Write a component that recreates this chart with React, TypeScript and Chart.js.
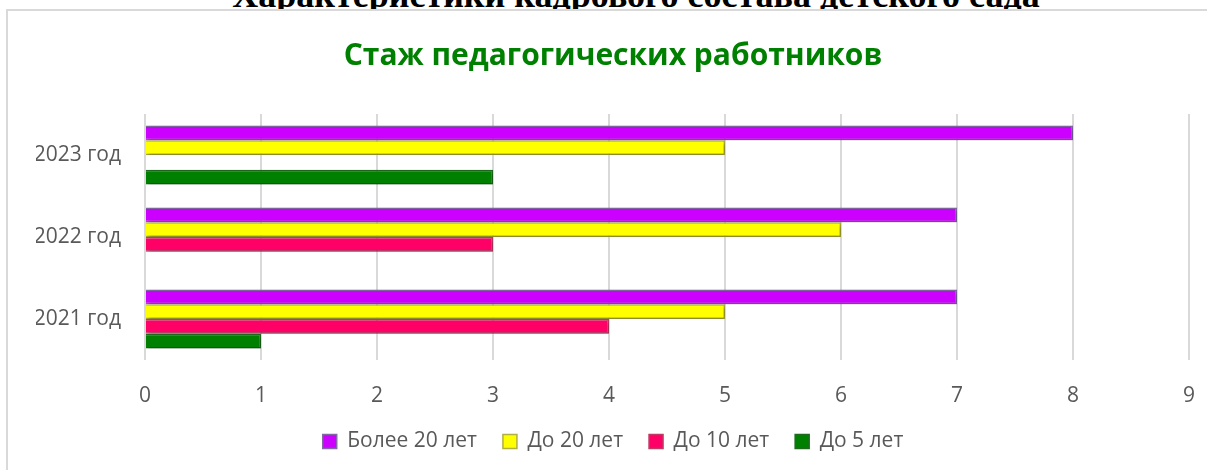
import React, { useEffect, useRef } from "react";
import { Chart, registerables } from "chart.js";

Chart.register(...registerables);

const pageHeading = "Характеристики кадрового состава детского сада";
const chartTitle = "Стаж педагогических работников";
const categories = ["2023 год", "2022 год", "2021 год"];
const seriesNames = ["Более 20 лет", "До 20 лет", "До 10 лет", "До 5 лет"];
const over20 = [8, 7, 7];
const upTo20 = [5, 6, 5];
const upTo10 = [0, 3, 4];
const upTo5 = [3, 0, 1];
const xTicks = [0, 1, 2, 3, 4, 5, 6, 7, 8, 9];

const fills = ["#CC00FF", "#FFFF00", "#FF0066", "#008000"];
const borders = ["#8367A6", "#B0B040", "#C03A64", "#1E6B1E"];

const shadowPlugin = {
  id: "barShadow",
  beforeDatasetsDraw(chart: any) {
    const ctx = chart.ctx;
    ctx.save();
    ctx.shadowColor = "rgba(0,0,0,0.3)";
    ctx.shadowBlur = 4;
    ctx.shadowOffsetX = 2;
    ctx.shadowOffsetY = 2;
  },
  afterDatasetsDraw(chart: any) {
    chart.ctx.restore();
  },
};

export default function App() {
  const ref = useRef<HTMLCanvasElement | null>(null);

  useEffect(() => {
    if (!ref.current) return;
    const values = [over20, upTo20, upTo10, upTo5];
    const chart = new Chart(ref.current, {
      type: "bar",
      data: {
        labels: categories,
        datasets: seriesNames.map((name, i) => ({
          label: name,
          data: values[i],
          backgroundColor: fills[i],
          borderColor: borders[i],
          borderWidth: 1.5,
          categoryPercentage: 0.72,
          barPercentage: 1,
        })),
      },
      options: {
        indexAxis: "y",
        animation: false,
        responsive: false,
        maintainAspectRatio: false,
        layout: { padding: { left: 28, right: 28, top: 0, bottom: 8 } },
        scales: {
          x: {
            min: 0,
            max: 9,
            afterBuildTicks: (scale: any) => {
              scale.ticks = xTicks.map((v) => ({ value: v }));
            },
            afterFit: (scale: any) => {
              scale.height = 45;
            },
            grid: { color: "#d9d9d9", lineWidth: 2, drawTicks: false },
            border: { display: false },
            ticks: {
              padding: 23,
              color: "#595959",
              font: { family: "'Open Sans'", size: 21 },
            },
          },
          y: {
            grid: { display: false, drawTicks: false },
            border: { display: false },
            afterFit: (scale: any) => {
              scale.width = 109;
            },
            ticks: {
              padding: 24,
              color: "#595959",
              font: { family: "'Open Sans'", size: 21 },
            },
          },
        },
        plugins: {
          title: {
            display: true,
            text: chartTitle,
            color: "#008000",
            font: { family: "'Open Sans'", size: 30, weight: "bold" },
            padding: { top: 27, bottom: 40 },
          },
          legend: {
            position: "bottom",
            labels: {
              boxWidth: 14,
              boxHeight: 14,
              padding: 26,
              color: "#595959",
              font: { family: "'Open Sans'", size: 21 },
            },
          },
          tooltip: { enabled: false },
        },
      },
      plugins: [shadowPlugin],
    });
    return () => chart.destroy();
  }, []);

  return (
    <div
      style={{
        position: "fixed",
        left: 0,
        top: 0,
        width: 1207,
        height: 470,
        overflow: "hidden",
        background: "#fff",
      }}
    >
      <div
        style={{
          position: "absolute",
          left: 0,
          width: 1272,
          top: -23,
          textAlign: "center",
          fontFamily: "'Liberation Serif', serif",
          fontWeight: "bold",
          fontSize: 36,
          lineHeight: "36px",
          whiteSpace: "nowrap",
          color: "#000",
        }}
      >
        {pageHeading}
      </div>
      <div
        style={{
          position: "absolute",
          left: 6,
          top: 9,
          width: 1300,
          height: 600,
          border: "2px solid #d9d9d9",
          background: "#fff",
        }}
      />
      <canvas
        ref={ref}
        width={1210}
        height={459}
        style={{ position: "absolute", left: 8, top: 11, width: 1210, height: 459 }}
      />
    </div>
  );
}
